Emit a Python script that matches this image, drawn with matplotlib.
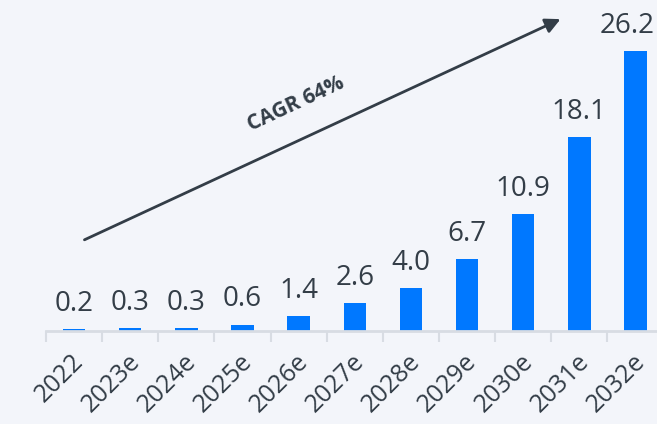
import numpy as np
import matplotlib.pyplot as plt
import matplotlib.transforms as mtransforms

# Market size by year
years = ['2022', '2023e', '2024e', '2025e', '2026e', '2027e',
         '2028e', '2029e', '2030e', '2031e', '2032e']
values = [0.2, 0.3, 0.3, 0.6, 1.4, 2.6, 4.0, 6.7, 10.9, 18.1, 26.2]
labels = ['0.2', '0.3', '0.3', '0.6', '1.4', '2.6', '4.0', '6.7', '10.9', '18.1', '26.2']

bg = '#f3f5fa'
bar_color = '#0078ff'
text_color = '#333d47'

plt.rcParams['font.family'] = ['Open Sans', 'DejaVu Sans']

fig = plt.figure(figsize=(6.57, 4.24), dpi=100, facecolor=bg)
ax = fig.add_axes([46 / 657, 93 / 424, 611 / 657, 331 / 424])
ax.set_facecolor(bg)

x = np.arange(len(years))
ax.bar(x, values, width=0.4, color=bar_color, zorder=2)

for i, (xi, v, lab) in enumerate(zip(x, values, labels)):
    # last label is nudged left so it stays inside the figure
    dx = -6 if i == len(x) - 1 else 0
    ax.annotate(lab, (xi, v), xytext=(dx, 8), textcoords='offset points',
                ha='center', va='bottom', fontsize=20, color=text_color)

ax.set_xlim(-0.5, 10.384)
ax.set_ylim(0, 30.96)

# Growth arrow
ax.annotate('', xy=(8.71, 29.28), xytext=(0.14, 8.42),
            arrowprops=dict(arrowstyle='-|>,head_length=0.9,head_width=0.45',
                            color=text_color, lw=2), zorder=3)
ax.text(3.96, 21.2, 'CAGR 64%', rotation=25, ha='center', va='center',
        fontsize=15, fontweight='bold', color=text_color)

for s in ['top', 'right', 'left']:
    ax.spines[s].set_visible(False)
ax.spines['bottom'].set_color('#d8dce3')
ax.spines['bottom'].set_linewidth(2)

ax.set_yticks([])
ax.set_xticks(x)
ax.set_xticklabels(years, rotation=45, ha='right', rotation_mode='anchor',
                   fontsize=18, color=text_color)
ax.set_xticks(np.arange(-0.5, 10.5, 1), minor=True)
ax.tick_params(axis='x', which='major', length=0, pad=13)
ax.tick_params(axis='x', which='minor', length=8, width=1.5, color='#d8dce3')

shift = mtransforms.ScaledTranslation(-2 / 72, 0, fig.dpi_scale_trans)
for t in ax.get_xticklabels():
    t.set_transform(t.get_transform() + shift)

plt.savefig('out.png', facecolor=bg)
